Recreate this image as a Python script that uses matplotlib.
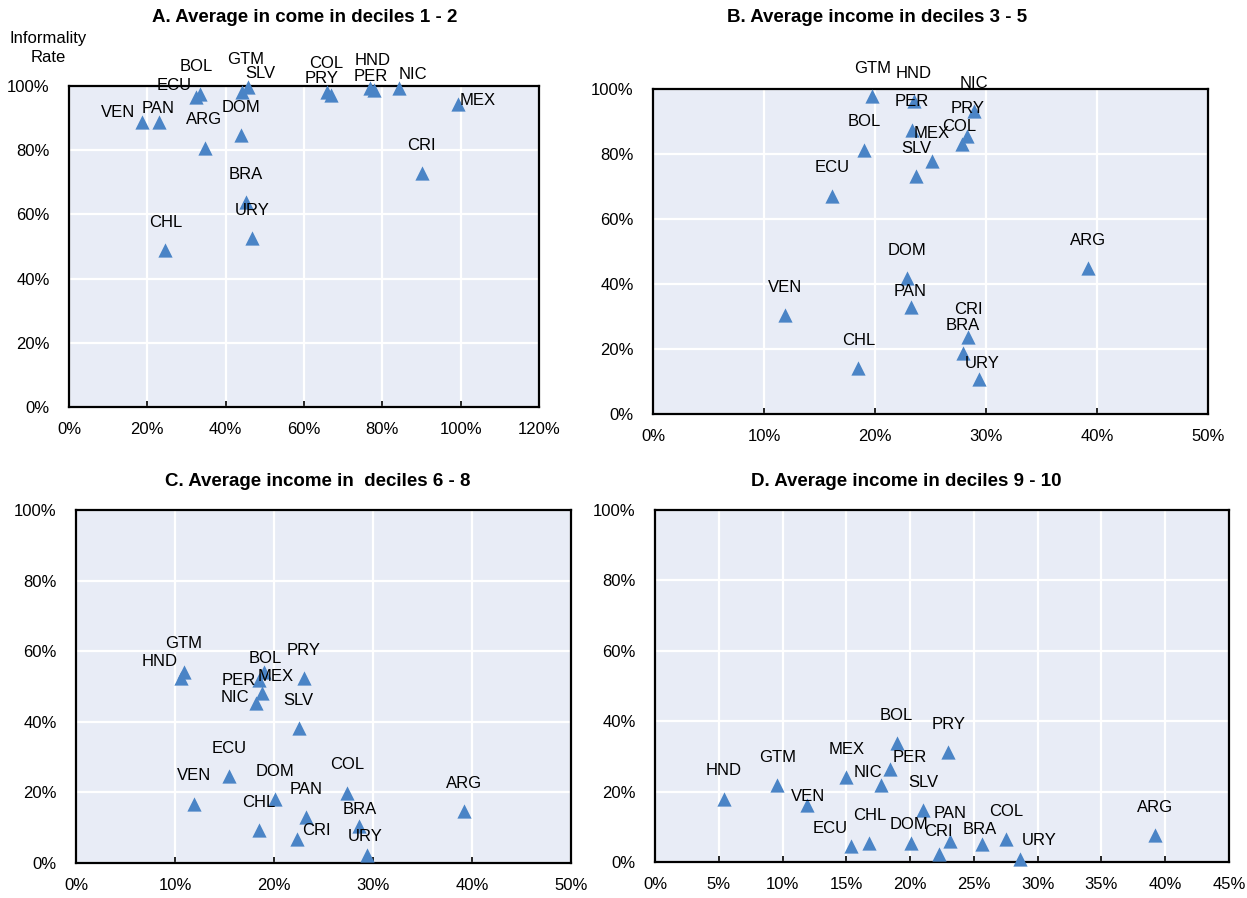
import matplotlib
matplotlib.use("Agg")
import matplotlib.pyplot as plt
from matplotlib import font_manager
from matplotlib.ticker import MultipleLocator, PercentFormatter

# pick a narrow sans if available
names = {f.name for f in font_manager.fontManager.ttflist}
FONT = "Liberation Sans Narrow" if "Liberation Sans Narrow" in names else "Liberation Sans"
FS = 13 if FONT == "Liberation Sans Narrow" else 12
plt.rcParams["font.family"] = [FONT, "DejaVu Sans"]

countries = ["ARG", "BOL", "BRA", "CHL", "COL", "CRI", "DOM", "ECU", "GTM",
             "HND", "MEX", "NIC", "PAN", "PER", "PRY", "SLV", "URY", "VEN"]

# A. deciles 1-2
a_income = [34.6, 33.5, 45.1, 24.6, 67.0, 90.1, 43.8, 32.5, 44.1,
            76.8, 99.4, 84.3, 23.0, 77.8, 65.8, 45.6, 46.7, 18.6]
a_informal = [80.8, 97.5, 63.9, 48.8, 97.2, 72.8, 84.8, 96.6, 98.0,
              99.3, 94.5, 99.3, 88.7, 98.7, 98.0, 99.7, 52.5, 88.7]

# B. deciles 3-5
b_income = [39.2, 19.0, 27.9, 18.5, 27.8, 28.4, 22.9, 16.1, 19.75,
            23.5, 25.1, 28.9, 23.2, 23.3, 28.3, 23.7, 29.4, 11.9]
b_informal = [44.9, 81.3, 18.7, 14.1, 83.2, 23.6, 41.8, 67.2, 97.8,
              96.2, 77.9, 93.1, 32.9, 87.5, 85.4, 73.1, 10.7, 30.5]

# C. deciles 6-8
c_income = [39.2, 19.0, 28.6, 18.5, 27.4, 22.3, 20.1, 15.5, 10.9,
            10.6, 18.8, 18.2, 23.2, 18.45, 23.0, 22.5, 29.4, 11.9]
c_informal = [14.7, 54.2, 10.4, 9.3, 19.9, 6.9, 18.1, 24.6, 54.2,
              52.3, 48.2, 45.2, 12.9, 51.8, 52.3, 38.3, 2.4, 16.8]

# D. deciles 9-10
d_income = [39.2, 18.95, 25.6, 16.8, 27.5, 22.3, 20.1, 15.4, 9.6,
            5.4, 15.0, 17.7, 23.1, 18.4, 23.0, 21.0, 28.6, 11.9]
d_informal = [7.6, 33.8, 5.2, 5.4, 6.4, 2.4, 5.4, 4.5, 21.8,
              18.0, 24.2, 21.8, 6.0, 26.5, 31.3, 14.7, 0.9, 16.1]

titles = ["A. Average in come in deciles 1 - 2",
          "B. Average income in deciles 3 - 5",
          "C. Average income in  deciles 6 - 8",
          "D. Average income in deciles 9 - 10"]

# label nudges in points (default is straight above the marker)
DEFAULT_OFF = (0, 20)
offsets = [
    {"VEN": (-17, 7), "PAN": (-1, 10), "ECU": (-16, 8), "BOL": (-3, 20),
     "GTM": (3, 24), "SLV": (9, 10), "COL": (-4, 23), "PRY": (-4, 10),
     "HND": (2, 20), "PER": (-2, 10), "NIC": (10, 10), "MEX": (14, 2)},
    {"COL": (-1.5, 12.5), "PAN": (0, 11), "URY": (2, 11.5)},
    {"HND": (-15.5, 12), "BOL": (0.5, 9.5), "PER": (-14, 0), "MEX": (10, 11.5),
     "NIC": (-15, 4), "CRI": (14.5, 6), "BRA": (0.5, 12), "URY": (-1.7, 13)},
    {"VEN": (1, 6.5), "NIC": (-9.5, 9), "PER": (14.5, 8), "ECU": (-15, 12.7),
     "DOM": (-1.7, 13.4), "CRI": (-1, 15.6), "BRA": (-1.4, 10.3), "URY": (14, 13)},
]

panels = [(a_income, a_informal), (b_income, b_informal),
          (c_income, c_informal), (d_income, d_informal)]
xmax = [120, 50, 50, 45]
xstep = [20, 10, 10, 5]

W, H = 1247, 898
boxes = [(69, 86, 539, 407), (653, 89, 1208, 414),
         (76, 510, 571, 863), (655, 510, 1229, 862)]
title_pos = [(305, 18), (877, 18), (318, 482), (906, 482)]

BG = "#E8ECF6"
BLUE = "#4A84C6"

fig = plt.figure(figsize=(W / 100, H / 100), dpi=100)

for i, (xs, ys) in enumerate(panels):
    l, t, r, b = boxes[i]
    ax = fig.add_axes([l / W, 1 - b / H, (r - l) / W, (b - t) / H])
    ax.set_facecolor(BG)
    ax.set_xlim(0, xmax[i])
    ax.set_ylim(0, 100)
    ax.xaxis.set_major_locator(MultipleLocator(xstep[i]))
    ax.yaxis.set_major_locator(MultipleLocator(20))
    ax.xaxis.set_major_formatter(PercentFormatter(decimals=0))
    ax.yaxis.set_major_formatter(PercentFormatter(decimals=0))
    ax.grid(True, color="white", linewidth=1.6)
    ax.set_axisbelow(True)
    for sp in ax.spines.values():
        sp.set_color("black")
        sp.set_linewidth(1.6)
    ax.tick_params(axis="x", direction="in", length=4, width=1.2, pad=11,
                   labelsize=FS)
    ax.tick_params(axis="y", length=0, pad=14, labelsize=FS)

    ax.scatter(xs, ys, marker="^", s=105, color=BLUE, linewidths=0,
               clip_on=False, zorder=3)
    for name, x, y in zip(countries, xs, ys):
        dx, dy = offsets[i].get(name, DEFAULT_OFF)
        ax.annotate(name, (x, y), xytext=(dx, dy), textcoords="offset points",
                    ha="center", va="center", fontsize=FS, zorder=4,
                    annotation_clip=False)

    tx, ty = title_pos[i]
    fig.text(tx / W, 1 - ty / H, titles[i], ha="center", va="center",
             fontsize=13.5, fontweight="bold")

fig.text(48 / W, 1 - 48 / H, "Informality\nRate", ha="center", va="center",
         fontsize=FS, linespacing=1.3)

fig.savefig("out.png", dpi=100)
